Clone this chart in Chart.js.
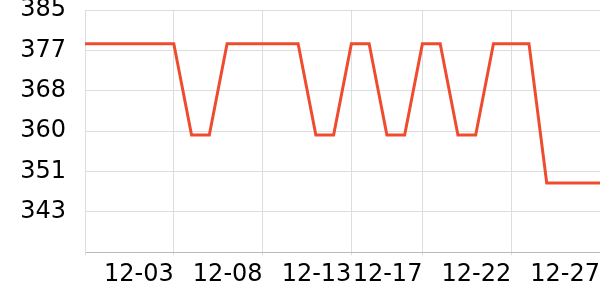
<!DOCTYPE html>
<html><head><meta charset="utf-8">
<script src="https://cdn.jsdelivr.net/npm/chart.js@4/dist/chart.umd.min.js"></script>
<style>html,body{margin:0;padding:0;background:#fff}#wrap{width:600px;height:300px}</style>
</head><body><div id="wrap"><canvas id="c" width="600" height="300"></canvas></div>
<script>
const dates = ['11-28','11-29','11-30','12-01','12-02','12-03','12-04','12-05','12-06','12-07','12-08','12-09','12-10','12-11','12-12','12-13','12-14','12-15','12-16','12-17','12-18','12-19','12-20','12-21','12-22','12-23','12-24','12-25','12-26','12-27'];
const values = [378,378,378,378,378,378,359,359,378,378,378,378,378,359,359,378,378,359,359,378,378,359,359,378,378,378,349,349,349,349];
const xTickLabels = ['12-03','12-08','12-13','12-17','12-22','12-27'];
const yTickValues = [385,376.6,368.2,359.8,351.4,343,334.6];
const yTickLabels = ['385','377','368','360','351','343',''];

new Chart(document.getElementById('c'), {
  type:'line',
  data:{labels:dates, datasets:[{data:values, borderColor:'#ef4c2f', borderWidth:3, pointRadius:0, tension:0, fill:false}]},
  options:{
    responsive:false, animation:false, devicePixelRatio:1,
    layout:{padding:{top:0,right:0,bottom:6,left:0}},
    plugins:{legend:{display:false}, tooltip:{enabled:false}},
    scales:{
      x:{type:'category', offset:false,
        grid:{color:'#dddddd', tickLength:3},
        border:{color:'#bbbbbb'},
        afterBuildTicks:(s)=>{ s.ticks=[0].concat(xTickLabels.map(l=>dates.indexOf(l))).map(v=>({value:v})); },
        ticks:{autoSkip:false, maxRotation:0, minRotation:0, align:'end', font:{family:'DejaVu Sans', size:24, lineHeight:'38.8px'}, color:'#000', padding:0,
          callback:(v)=> xTickLabels.includes(dates[v]) ? dates[v] : ''}
      },
      y:{type:'linear', min:yTickValues[yTickValues.length-1], max:yTickValues[0],
        grid:{color:'#dddddd', tickLength:19, tickColor:'rgba(0,0,0,0)'},
        border:{color:'#dddddd'},
        afterBuildTicks:(s)=>{ s.ticks=yTickValues.map(v=>({value:v})); },
        afterFit:(s)=>{ s.width=85; },
        ticks:{font:{family:'DejaVu Sans', size:24, lineHeight:'20px'}, color:'#000', padding:0, callback:(v,i)=>yTickLabels[i]}
      }
    }
  }
});
</script></body></html>
